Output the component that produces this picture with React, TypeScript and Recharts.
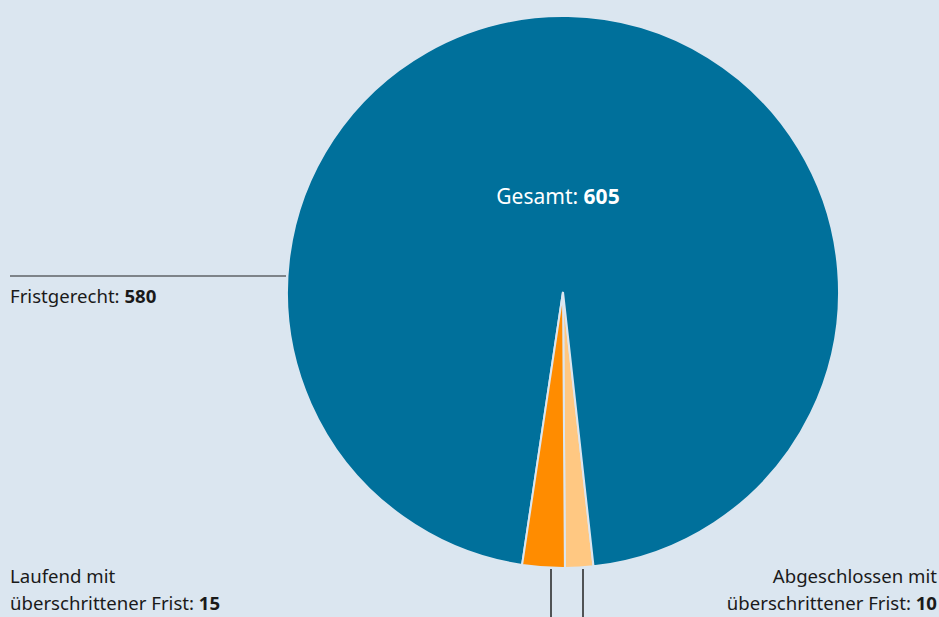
import { PieChart, Pie, Cell } from "recharts";

const NAMES = ["Abgeschlossen", "Fristgerecht", "Laufend"];
const VALUES = [10, 580, 15];
const TOTAL_LABEL = "Gesamt: ";
const TOTAL = 605;

const COLORS = ["#ffc882", "#00709b", "#ff8c00"];
const BG = "#dbe6f0";
const FONT = "'Noto Sans', sans-serif";
const TEXT = "#1a1a1a";
const FS = 18.6;

const data = NAMES.map((name, i) => ({ name, value: VALUES[i] }));

function renderLabel(props: any) {
  const { cx, cy, outerRadius, index, value } = props;
  const bottom = cy + outerRadius + 1;
  if (index === 1) {
    const y = cy - 16;
    return (
      <g key="l1">
        <line x1={10} y1={y} x2={cx - outerRadius - 1} y2={y} stroke="#222" strokeWidth={1.2} />
        <text x={10} y={y + 27} fill={TEXT} fontSize={FS} fontFamily={FONT}>
          Fristgerecht: <tspan fontWeight="bold">{value}</tspan>
        </text>
        <text x={cx - 5} y={cy - 88} textAnchor="middle" fill="#ffffff" fontSize={21} fontFamily={FONT}>
          {TOTAL_LABEL}
          <tspan fontWeight="bold">{TOTAL}</tspan>
        </text>
      </g>
    );
  }
  if (index === 2) {
    const x = cx - 12;
    return (
      <g key="l2">
        <line x1={x} y1={bottom} x2={x} y2={617} stroke="#222" strokeWidth={1.5} />
        <text x={10} y={583} fill={TEXT} fontSize={FS} fontFamily={FONT}>Laufend mit</text>
        <text x={10} y={610} fill={TEXT} fontSize={FS} fontFamily={FONT}>
          überschrittener Frist: <tspan fontWeight="bold">{value}</tspan>
        </text>
      </g>
    );
  }
  const x = cx + 20;
  return (
    <g key="l0">
      <line x1={x} y1={bottom} x2={x} y2={617} stroke="#222" strokeWidth={1.5} />
      <text x={937} y={583} textAnchor="end" fill={TEXT} fontSize={FS} fontFamily={FONT}>Abgeschlossen mit</text>
      <text x={937} y={610} textAnchor="end" fill={TEXT} fontSize={FS} fontFamily={FONT}>
        überschrittener Frist: <tspan fontWeight="bold">{value}</tspan>
      </text>
    </g>
  );
}

export default function App() {
  return (
    <div style={{ position: "absolute", left: 0, top: 0, width: 939, height: 617, background: BG }}>
      <PieChart width={939} height={617} margin={{ top: 0, right: 0, bottom: 0, left: 0 }}>
        <Pie
          data={data}
          dataKey="value"
          nameKey="name"
          cx={563}
          cy={292}
          outerRadius={276}
          startAngle={-89.6}
          endAngle={270.4}
          stroke={BG}
          strokeWidth={2}
          label={renderLabel}
          labelLine={false}
          isAnimationActive={false}
        >
          {data.map((d, i) => (
            <Cell key={d.name} fill={COLORS[i]} />
          ))}
        </Pie>
      </PieChart>
    </div>
  );
}
